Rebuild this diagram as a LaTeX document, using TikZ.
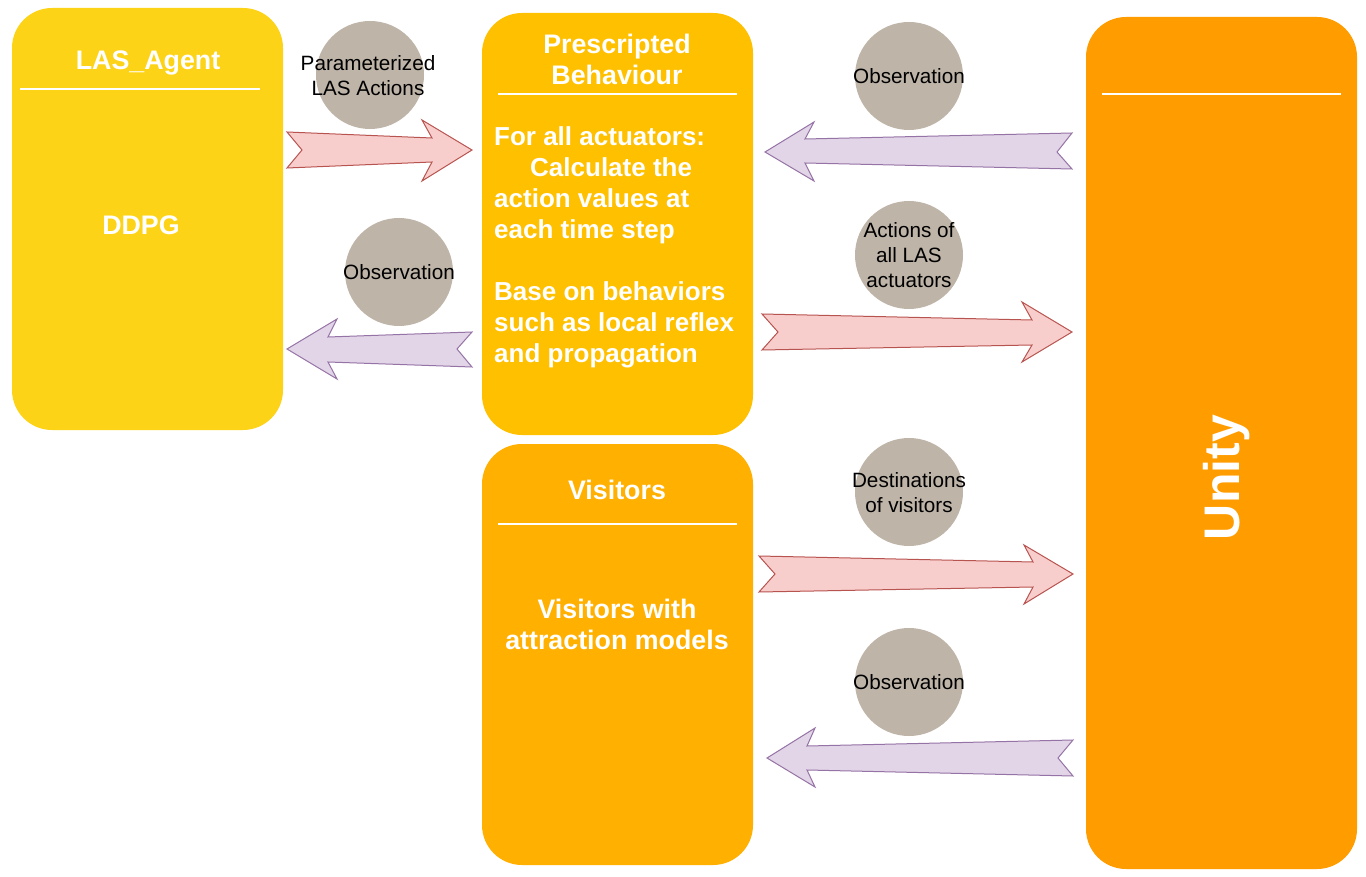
\documentclass[tikz,border=0pt]{standalone}
\usepackage{fontspec}
\setmainfont{Liberation Sans}
\definecolor{cagent}{HTML}{FDD317}
\definecolor{cpresc}{HTML}{FFC000}
\definecolor{cvisit}{HTML}{FFB000}
\definecolor{cunity}{HTML}{FF9C00}
\definecolor{cgray}{HTML}{BEB4A8}
\definecolor{redfill}{HTML}{F8CECC}
\definecolor{redline}{HTML}{B85450}
\definecolor{purfill}{HTML}{E1D5E7}
\definecolor{purline}{HTML}{9673A6}
\tikzset{
  block/.style={draw=none, rounded corners=40pt},
  sepline/.style={draw=white, line width=2pt},
  bigtext/.style={text=white, font=\fontsize{26}{31}\selectfont\bfseries, inner sep=0pt},
  titletext/.style={text=white, font=\fontsize{26.8}{31}\selectfont\bfseries, inner sep=0pt},
  unitytext/.style={text=white, font=\fontsize{50}{60}\selectfont\bfseries, inner sep=0pt},
  bubble/.style={circle, fill=cgray, minimum size=108pt, inner sep=0pt},
  bubtext/.style={text=black, font=\fontsize{20.7}{25}\selectfont, inner sep=0pt, align=center},
  redarrow/.style={fill=redfill, draw=redline, line width=1pt, line join=miter},
  purarrow/.style={fill=purfill, draw=purline, line width=1pt, line join=miter},
}
\begin{document}
\begin{tikzpicture}[x=1pt,y=-1pt]
\useasboundingbox (0,0) rectangle (1366,877);
\fill[white] (0,0) rectangle (1366,877);
% blocks
\fill[cagent, block] (12,8) rectangle (283,430);
\fill[cpresc, block] (482,13) rectangle (753,435);
\fill[cvisit, block] (482,444) rectangle (753,865);
\fill[cunity, block] (1086,17) rectangle (1357,869);
% separators
\draw[sepline] (20,89) -- (260,89);
\draw[sepline] (498,94) -- (737,94);
\draw[sepline] (498,524) -- (737,524);
\draw[sepline] (1102,94) -- (1341,94);
% block texts
\node[titletext, anchor=base] (agentTitle) at (148,69.5) {LAS\_Agent};
\node[titletext, anchor=base] (ddpg) at (141,234.5) {DDPG};
\node[titletext, align=center] (prescTitle) at (617,59.3) {Prescripted\\Behaviour};
\node[bigtext, align=left, anchor=north west] (prescBody) at (494,126.3)
  {For all actuators:\\\hspace*{36pt}Calculate the\\action values at\\each time step\\[31pt]Base on behaviors\\such as local reflex\\and propagation};
\node[titletext, anchor=base] (visitTitle) at (617,499.5) {Visitors};
\node[titletext, align=center] (visitBody) at (617,624.3) {Visitors with\\attraction models};
\node[unitytext, anchor=base, rotate=90] (unityTitle) at (1239,477.5) {Unity};
% bubbles
\node[bubble] (b1) at (370,75) {};
\node[bubble] (b2) at (399,272) {};
\node[bubble] (b3) at (909,76) {};
\node[bubble] (b4) at (909,255) {};
\node[bubble] (b5) at (909,492) {};
\node[bubble] (b6) at (909,682) {};
% arrows
\draw[redarrow] (287,132) -- (432,138) -- (422,120) -- (472,150) -- (422,181) -- (432,162) -- (287,168) -- (302,150) -- cycle;
\draw[purarrow] (287,349) -- (337,319) -- (328,337) -- (472,332) -- (457,349) -- (472,367) -- (328,362) -- (337,379) -- cycle;
\draw[purarrow] (765,152) -- (814,122) -- (805,139) -- (1072,133) -- (1057,152) -- (1072,169) -- (805,163) -- (814,181) -- cycle;
\draw[redarrow] (762,314) -- (1032,320) -- (1022,302) -- (1072,332) -- (1022,362) -- (1032,345) -- (762,350) -- (778,332) -- cycle;
\draw[redarrow] (759,556) -- (1033,562) -- (1024,545) -- (1073,574) -- (1024,604) -- (1033,587) -- (759,592) -- (775,574) -- cycle;
\draw[purarrow] (767,758) -- (815,728) -- (807,746) -- (1073,740) -- (1058,758) -- (1073,776) -- (807,770) -- (815,787) -- cycle;
% bubble texts
\node[bubtext] (t1) at (368,75.4) {Parameterized\\LAS Actions};
\node[bubtext, anchor=base] (t2) at (399,279.4) {Observation};
\node[bubtext, anchor=base] (t3) at (909,83.4) {Observation};
\node[bubtext] (t4) at (909,254.9) {Actions of\\all LAS\\actuators};
\node[bubtext] (t5) at (909,492.4) {Destinations\\of visitors};
\node[bubtext, anchor=base] (t6) at (909,689.4) {Observation};
\end{tikzpicture}
\end{document}
